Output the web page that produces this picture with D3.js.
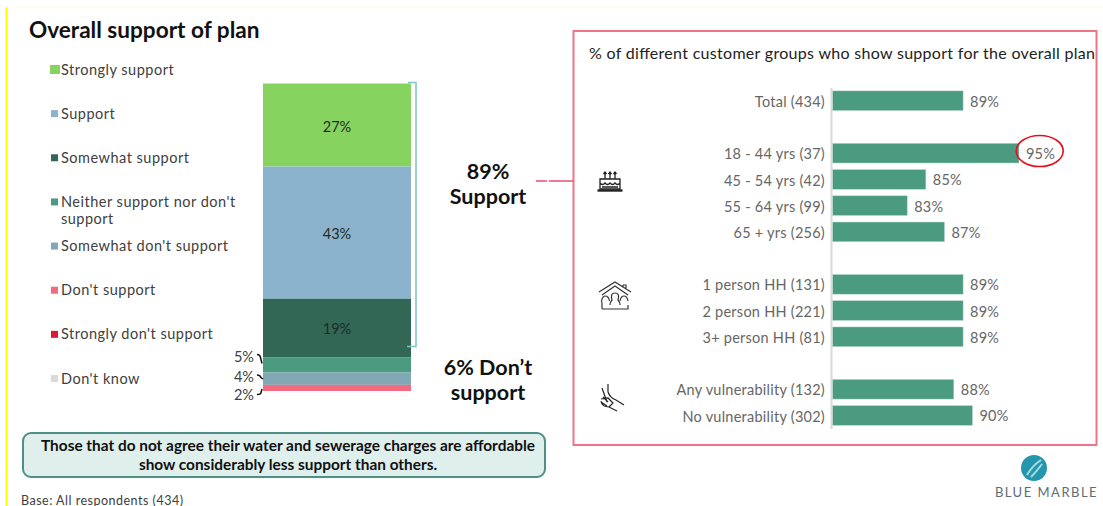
<!DOCTYPE html>
<html>
<head>
<meta charset="utf-8">
<script src="https://cdn.jsdelivr.net/npm/d3@7"></script>
<style>
  html, body { margin: 0; padding: 0; background: #fff; overflow: hidden; }
  text { font-family: Lato, "Open Sans", sans-serif; }
</style>
</head>
<body>
<svg id="chart" width="1103" height="506"></svg>
<script>
// left stacked bar
const categories = ["Strongly support", "Support", "Somewhat support", "Neither support nor don't support",
    "Somewhat don't support", "Don't support", "Strongly don't support", "Don't know"]
const shares = [27, 43, 19, 5, 4, 2, 0, 0]
const colours = ["#87d35f", "#8bb3cd", "#326755", "#4b9b80", "#81a8b4", "#f26b80", "#d7193a", "#d9d9d9"]

// right bars, blank names keep an empty row between the groups
const groups = ["Total (434)", "", "18 - 44 yrs (37)", "45 - 54 yrs (42)", "55 - 64 yrs (99)", "65 + yrs (256)", " ",
    "1 person HH (131)", "2 person HH (221)", "3+ person HH (81)", "  ", "Any vulnerability (132)", "No vulnerability (302)"]
const support = [89, null, 95, 85, 83, 87, null, 89, 89, 89, null, 88, 90]

const svg = d3.select("#chart")
const ink = "#404040", grey = "#666666"

// page furniture
svg.append("line").attr("x1", 6.5).attr("x2", 6.5).attr("y1", 7).attr("y2", 506)
    .attr("stroke", "#ffff00").attr("stroke-width", 2)
svg.append("line").attr("x1", 7).attr("x2", 1103).attr("y1", 7).attr("y2", 7)
    .attr("stroke", "#fdfde8")

svg.append("text").attr("x", 29).attr("y", 37.5)
    .attr("font-size", 22.6).attr("font-weight", 700).attr("fill", "#111")
    .text("Overall support of plan")

// legend
const legendY = d3.scalePoint().domain(categories).range([69.5, 378.5])
const legend = svg.append("g").selectAll("g").data(categories).join("g")
    .attr("transform", d => `translate(0, ${legendY(d)})`)
legend.append("rect").attr("x", d => d == categories[0] ? 50 : 51).attr("y", d => d == categories[0] ? -4.5 : -3.5)
    .attr("width", d => d == categories[0] ? 10 : 7).attr("height", d => d == categories[0] ? 9 : 7)
    .attr("fill", (d, i) => colours[i])
legend.append("text").attr("x", 61).attr("font-size", 14.5).attr("fill", ink)
    .attr("letter-spacing", 0.5)
    .each(function (d) {
        // the long entry wraps onto a second line
        let lines = d.length > 25 ? ["Neither support nor don't", "support"] : [d]
        d3.select(this).selectAll("tspan").data(lines).join("tspan")
            .attr("x", 61).attr("y", (l, i) => 5 + i * 17).text(l => l)
    })

// stacked bar
const stackRow = {}
categories.forEach((c, i) => stackRow[c] = shares[i])
const stacked = d3.stack().keys(categories).order(d3.stackOrderNone)([stackRow])
const y = d3.scaleLinear().domain([0, 100]).range([83.5, 391])

const bar = svg.append("g")
bar.selectAll("rect").data(stacked).join("rect")
    .attr("x", 263).attr("width", 148)
    .attr("y", d => y(d[0][0]))
    .attr("height", d => y(d[0][1]) - y(d[0][0]))
    .attr("fill", (d, i) => colours[i])

bar.selectAll("text").data(stacked.filter(d => d[0][1] - d[0][0] > 10)).join("text")
    .attr("x", 337).attr("y", d => y((d[0][0] + d[0][1]) / 2) + 6.5)
    .attr("text-anchor", "middle").attr("font-size", 14.5).attr("fill", "#1f2b27")
    .text(d => (d[0][1] - d[0][0]) + "%")

// small labels sit outside the bar with little leader lines
const small = [
    { i: 3, ty: 357, path: "M257,354.5 q3,0 3.5,3 l1.5,6" },
    { i: 4, ty: 377, path: "M257,375 q3,0 4,2.5 l2,1.5" },
    { i: 5, ty: 395, path: "M257,394.5 q4,0 4,-2 l1,-3.5" }
]
small.forEach(s => {
    svg.append("text").attr("x", 254).attr("y", s.ty + 5).attr("text-anchor", "end")
        .attr("font-size", 14.5).attr("fill", ink).text(shares[s.i] + "%")
    svg.append("path").attr("d", s.path).attr("fill", "none").attr("stroke", "#111").attr("stroke-width", 1.5)
})

// bracket round the three support segments
svg.append("path").attr("d", "M408,82.5 H416 V346.5 H407").attr("fill", "none")
    .attr("stroke", "#7cc5bf").attr("stroke-width", 1.5)

// big call outs
const bigText = [["89%", 179], ["Support", 204], ["6% Don\u2019t", 375], ["support", 400]]
svg.append("g").selectAll("text").data(bigText).join("text")
    .attr("x", 488).attr("y", d => d[1]).attr("text-anchor", "middle")
    .attr("font-size", 21.5).attr("font-weight", 700).attr("fill", "#111")
    .text(d => d[0])

// note box
svg.append("rect").attr("x", 23).attr("y", 433).attr("width", 522).attr("height", 44).attr("rx", 8)
    .attr("fill", "#deefec").attr("stroke", "#4e8f88").attr("stroke-width", 2)
const note = ["Those that do not agree their water and sewerage charges are affordable", "show considerably less support than others."]
svg.append("g").selectAll("text").data(note).join("text")
    .attr("x", 288).attr("y", (d, i) => 451 + i * 19).attr("text-anchor", "middle")
    .attr("font-size", 15.4).attr("font-weight", 700).attr("fill", "#111").text(d => d)

svg.append("text").attr("x", 21).attr("y", 504.5).attr("font-size", 12.5).attr("fill", ink)
    .attr("letter-spacing", 0.5).text("Base: All respondents (434)")

// right panel
svg.append("rect").attr("x", 573.5).attr("y", 31).attr("width", 523).attr("height", 414)
    .attr("fill", "none").attr("stroke", "#f07488").attr("stroke-width", 2)
svg.append("path").attr("d", "M536,181 H547 M549,181 H573").attr("stroke", "#ea4f6e").attr("stroke-width", 1.5)

svg.append("text").attr("x", 589).attr("y", 59).attr("font-size", 16).attr("fill", "#222")
    .attr("textLength", 506).attr("lengthAdjust", "spacing")
    .text("% of different customer groups who show support for the overall plan")

const rowY = d3.scaleBand().domain(groups).range([87.6, 428.6]).paddingInner(0.25).paddingOuter(0.125)
const x = d3.scaleLinear().domain([75, 95]).range([832.7, 1019])

const axis = d3.axisLeft(rowY).tickSize(0).tickPadding(6).tickValues(groups.filter(g => g.trim() != ""))
const axisG = svg.append("g").attr("transform", "translate(831, 0)").call(axis)
axisG.select(".domain").attr("stroke", "#d9d9d9").attr("stroke-width", 2)
axisG.selectAll("text").attr("font-size", 14.5).attr("fill", grey).attr("letter-spacing", 0.25)
    .attr("dy", "0.42em").style("font-family", "Lato")

const rows = groups.map((g, i) => ({ g, v: support[i] })).filter(d => d.v != null)
svg.append("g").selectAll("rect").data(rows).join("rect")
    .attr("x", x(75)).attr("y", d => rowY(d.g))
    .attr("width", d => x(d.v) - x(75)).attr("height", rowY.bandwidth())
    .attr("fill", "#4b9b80").attr("stroke", "#b9d8cc").attr("stroke-width", 0.5)
svg.append("g").selectAll("text").data(rows).join("text")
    .attr("x", d => x(d.v) + 7).attr("y", d => rowY(d.g) + rowY.bandwidth() / 2 + 6)
    .attr("font-size", 14.5).attr("letter-spacing", 0.2).attr("fill", grey).text(d => d.v + "%")

// highlight on the top value
svg.append("ellipse").attr("cx", 1039.7).attr("cy", 151).attr("rx", 23.5).attr("ry", 15.5)
    .attr("fill", "none").attr("stroke", "#e3101f").attr("stroke-width", 1.6)

// icons
const cake = svg.append("g").attr("transform", "translate(610, 181)")
    .attr("fill", "none").attr("stroke", "#222").attr("stroke-width", 1.3)
cake.append("path").attr("d", "M-10,-2 H10 V8 H-10 Z M-10,2 q2.5,3 5,0 q2.5,3 5,0 q2.5,3 5,0 q2.5,3 5,0 M-8,6 H8")
cake.append("path").attr("d", "M-12.5,9.5 H12.5").attr("stroke-width", 2.4)
cake.append("path").attr("d", "M-5,-2 V-9 M0,-2 V-9 M5,-2 V-9 M-6.5,-7 L-5,-9 L-3.5,-7 M-1.5,-7 L0,-9 L1.5,-7 M3.5,-7 L5,-9 L6.5,-7")

const house = svg.append("g").attr("transform", "translate(615, 297)")
    .attr("fill", "none").attr("stroke", "#333").attr("stroke-width", 1.2)
house.append("path").attr("d", "M-16,-5 L0,-15 L16,-5 M-13,-2 L0,-11 L13,-2 M8,-12 V-9 M8,-12 H11 V-7")
house.append("path").attr("d", "M-13,12 H13 V8 M-13,12 V8 q0,-4 -0.5,-4 q1,-5 4,-5 q3,0 4,5 M5,4 q1,-5 4,-5 q3,0 4,5 M-5,8 q0,-3 2,-5 q-2,-7 3,-7 q5,0 3,7 q2,2 2,5")

const hands = svg.append("g").attr("transform", "translate(610, 397)")
    .attr("fill", "none").attr("stroke", "#222").attr("stroke-width", 1.2)
hands.append("path").attr("d", "M-8,-9 L-3,5 M-2,-13 V-5 Q0,1 6,3 L14,8 M-9,4 Q-8,10 -1,10 L7,14 M-9,2 L-2,1 L3,6 L-1,10 M-9,5 L-3,9 M-7,0 L-2,5")

// logo
const logo = svg.append("g").attr("transform", "translate(1034, 468)")
logo.append("circle").attr("r", 13).attr("fill", "#2496ad")
logo.append("path").attr("d", "M-7,7 Q-2,-2 7,-8 M-3,9 Q3,3 8,-4").attr("fill", "none").attr("stroke", "#a6dbe2").attr("stroke-width", 2)
svg.append("text").attr("x", 1046.5).attr("y", 497).attr("text-anchor", "middle")
    .attr("font-size", 13).attr("letter-spacing", 1.5).attr("fill", "#5f6b75").text("BLUE MARBLE")
</script>
</body>
</html>
